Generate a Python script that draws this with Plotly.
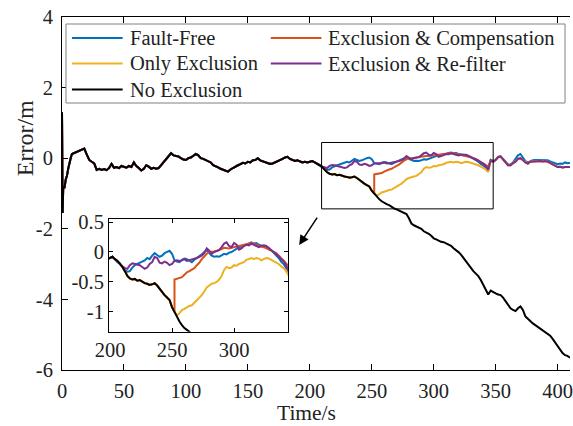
import plotly.graph_objects as go

# ---------------- data ----------------
# common part (all methods identical before the fault), t = 0 .. 204 s
t_start = [0, 0.5, 1, 2, 3, 4, 5, 6, 7]
err_start = [1.3, -1.55, -0.8, -0.85, -0.6, -0.5, -0.3, -0.1, 0.0]
err_common = [0.12, 0.15, 0.18, 0.2, 0.25, 0.27, 0.1, -0.05, -0.1, -0.15,
              -0.33, -0.3, -0.33, -0.31, -0.34, -0.28, -0.16, -0.27, -0.25, -0.28,
              -0.22, -0.25, -0.27, -0.22, -0.25, -0.12, -0.22, -0.28, -0.35, -0.3,
              -0.2, -0.24, -0.3, -0.27, -0.3, -0.28, -0.2, -0.12, -0.05, 0.05,
              0.14, 0.08, 0.06, 0.05, 0.0, -0.04, -0.05, 0.0, 0.02, 0.06,
              0.12, 0.08, 0.0, -0.02, -0.06, -0.1, -0.12, -0.2, -0.22, -0.26,
              -0.3, -0.33, -0.35, -0.38, -0.32, -0.28, -0.22, -0.2, -0.17, -0.13,
              -0.15, -0.1, -0.12, -0.06, -0.05, 0.0, -0.06, -0.08, -0.1, -0.12,
              -0.16, -0.15, -0.12, -0.1, -0.05, -0.02, 0.02, 0.04, -0.02, -0.04,
              -0.08, -0.06, -0.1, -0.12, -0.1, -0.12, -0.1, -0.08, -0.12]

# fault, before exclusion: t = 206 .. 252 s
black_b = [-0.15, -0.2, -0.25, -0.32, -0.4, -0.44, -0.46, -0.45, -0.48, -0.47,
           -0.5, -0.52, -0.53, -0.55, -0.54, -0.52, -0.56, -0.62, -0.67, -0.72,
           -0.76, -0.8, -0.92, -1.0]
blue_b = [-0.17, -0.2, -0.25, -0.3, -0.33, -0.32, -0.26, -0.22, -0.2, -0.18,
          -0.16, -0.14, -0.1, -0.12, -0.06, -0.02, -0.05, -0.08, -0.06, -0.02,
          0.0, 0.02, -0.03, -0.14]
purple_b = [-0.15, -0.19, -0.24, -0.27, -0.28, -0.22, -0.19, -0.2, -0.22, -0.22,
            -0.25, -0.28, -0.26, -0.2, -0.17, -0.08, -0.1, -0.18, -0.19, -0.16,
            -0.18, -0.22, -0.2, -0.15]

# after exclusion: t = 254 .. 344 s
black_c = [-1.1, -1.16, -1.22, -1.27, -1.3, -1.33, -1.38, -1.42, -1.45, -1.48,
           -1.5, -1.55, -1.58, -1.7, -1.85, -1.9, -1.93, -1.96, -2.0, -2.07,
           -2.1, -2.14, -2.2, -2.27, -2.3, -2.34, -2.37, -2.38, -2.42, -2.45,
           -2.48, -2.55, -2.6, -2.66, -2.73, -2.83, -2.92, -3.0, -3.1, -3.2,
           -3.27, -3.34, -3.45, -3.58, -3.72, -3.86]
blue_c = [-0.16, -0.17, -0.13, -0.11, -0.12, -0.15, -0.17, -0.13, -0.1, -0.08,
          -0.04, 0.0, 0.03, -0.02, -0.06, -0.08, -0.07, -0.08, -0.06, -0.03,
          -0.04, -0.01, 0.0, 0.03, 0.06, 0.08, 0.09, 0.11, 0.12, 0.15,
          0.16, 0.14, 0.15, 0.12, 0.11, 0.1, 0.09, 0.07, 0.03, -0.01,
          -0.06, -0.1, -0.16, -0.2, -0.27, -0.3]
purple_c = [-0.14, -0.15, -0.14, -0.12, -0.15, -0.14, -0.13, -0.11, -0.1, -0.08,
            -0.06, -0.02, 0.06, 0.02, -0.03, 0.0, 0.02, 0.03, 0.08, 0.14,
            0.16, 0.1, 0.08, 0.15, 0.12, 0.04, 0.06, 0.1, 0.12, 0.11,
            0.14, 0.12, 0.1, 0.08, 0.1, 0.11, 0.1, 0.06, 0.03, 0.0,
            -0.03, -0.07, -0.12, -0.15, -0.22, -0.33]
orange_jump = -0.46
orange_c = [-0.45, -0.43, -0.42, -0.38, -0.34, -0.32, -0.3, -0.27, -0.22, -0.18,
            -0.12, -0.07, -0.03, 0.0, 0.0, 0.01, 0.02, 0.03, 0.05, 0.07,
            0.06, 0.06, 0.07, 0.08, 0.09, 0.1, 0.12, 0.12, 0.13, 0.14,
            0.15, 0.14, 0.12, 0.1, 0.09, 0.08, 0.06, 0.04, 0.03, 0.01,
            -0.02, -0.06, -0.1, -0.14, -0.19, -0.24]
yellow_c = [-1.06, -1.02, -0.97, -0.95, -0.92, -0.9, -0.89, -0.85, -0.81, -0.77,
            -0.72, -0.66, -0.59, -0.56, -0.53, -0.52, -0.5, -0.46, -0.4, -0.3,
            -0.25, -0.27, -0.26, -0.22, -0.23, -0.2, -0.19, -0.17, -0.13, -0.11,
            -0.1, -0.12, -0.1, -0.11, -0.14, -0.12, -0.1, -0.11, -0.13, -0.16,
            -0.18, -0.2, -0.24, -0.27, -0.32, -0.39]

# after the fault: t = 346 .. 410 s
black_d = [-3.75, -3.8, -3.83, -3.86, -3.88, -3.95, -4.05, -4.15, -4.25, -4.3,
           -4.33, -4.25, -4.2, -4.3, -4.48, -4.55, -4.62, -4.68, -4.73, -4.78,
           -4.82, -4.88, -4.92, -4.97, -5.03, -5.12, -5.22, -5.3, -5.4, -5.52,
           -5.58, -5.6, -5.65]
blue_d = [-0.05, -0.08, -0.04, 0.04, 0.05, -0.04, -0.1, -0.18, -0.18, -0.12,
          -0.02, 0.08, 0.12, 0.02, -0.08, -0.12, -0.08, -0.06, -0.05, -0.05,
          -0.06, -0.07, -0.05, -0.06, -0.09, -0.12, -0.14, -0.17, -0.15, -0.16,
          -0.12, -0.14, -0.13]
others_d = [-0.06, -0.1, -0.05, 0.03, 0.05, -0.05, -0.12, -0.2, -0.2, -0.14,
            -0.1, -0.02, 0.0, -0.05, -0.12, -0.15, -0.1, -0.09, -0.08, -0.07,
            -0.08, -0.09, -0.08, -0.1, -0.14, -0.18, -0.22, -0.25, -0.24, -0.26,
            -0.25, -0.26, -0.25]

names = ["Fault-Free", "Exclusion & Compensation", "Only Exclusion",
         "Exclusion & Re-filter", "No Exclusion"]
colors = ["#0072BD", "#D95319", "#EDB120", "#7E2F8E", "#000000"]

y_ticks = [-6, -4, -2, 0, 2, 4]
x_ticks = [0, 50, 100, 150, 200, 250, 300, 350, 400]
in_x_ticks = [200, 250, 300]
in_y_ticks = [-1, -0.5, 0, 0.5]

# ---------------- assemble series ----------------
def times(start, vals):
    return [start + 2 * i for i in range(len(vals))]

tA = t_start + times(8, err_common)
yA = err_start + err_common
tB = times(206, black_b)
tC = times(254, black_c)
tD = times(346, black_d)

series = {
    "Fault-Free": (tA + tB + tC + tD, yA + blue_b + blue_c + blue_d),
    "Exclusion & Compensation": (tA + tB + [tB[-1]] + tC + tD,
                                 yA + black_b + [orange_jump] + orange_c + others_d),
    "Only Exclusion": (tA + tB + tC + tD, yA + black_b + yellow_c + others_d),
    "Exclusion & Re-filter": (tA + tB + tC + tD, yA + purple_b + purple_c + others_d),
    "No Exclusion": (tA + tB + tC + tD, yA + black_b + black_c + black_d),
}

FONT = "Liberation Serif"
FS = 20.5
TXT = "#222222"

fig = go.Figure()
for nm, col in zip(names, colors):
    x, y = series[nm]
    fig.add_trace(go.Scatter(x=x, y=y, mode="lines", name=nm, showlegend=False,
                             line=dict(color=col, width=2)))
for nm, col in zip(names, colors):
    x, y = series[nm]
    fig.add_trace(go.Scatter(x=x, y=y, mode="lines", name=nm, showlegend=False,
                             xaxis="x2", yaxis="y2",
                             line=dict(color=col, width=2)))

W, H = 573, 426
ml, mr, mt, mb = 62, 0, 17, 56
pw, ph = W - ml - mr, H - mt - mb

def px_x(px):
    return (px - ml) / pw

def px_y(py):
    return (H - mb - py) / ph

axis_common = dict(showline=True, linecolor="black", linewidth=1, ticks="inside",
                   tickcolor="black", showgrid=False, zeroline=False,
                   ticklabeloverflow="allow",
                   tickfont=dict(family=FONT, size=FS, color=TXT))

fig.update_layout(
    width=W, height=H, autosize=False,
    margin=dict(l=ml, r=mr, t=mt, b=mb),
    paper_bgcolor="white", plot_bgcolor="white",
    font=dict(family=FONT, size=FS, color=TXT),
    showlegend=False,
    xaxis=dict(range=[0, 410], tickvals=x_ticks, ticklen=6, mirror="ticks",
               ticklabelstandoff=2, **axis_common),
    yaxis=dict(range=[-6, 4], tickvals=y_ticks, ticktext=[str(v) for v in y_ticks],
               ticklen=6, mirror=False, ticklabelstandoff=4, **axis_common),
    xaxis2=dict(domain=[px_x(109.3), px_x(289.3)], anchor="y2", range=[199.2, 343.5],
                tickvals=in_x_ticks, ticklen=4, mirror="ticks", **axis_common),
    yaxis2=dict(domain=[px_y(331.7), px_y(219)], anchor="x2", range=[-1.33, 0.55],
                tickvals=in_y_ticks, ticktext=[str(v) for v in in_y_ticks],
                ticklen=4, mirror="ticks", **axis_common),
)

# zoom rectangle
fig.add_shape(type="rect", xref="x", yref="y", x0=209.5, x1=348, y0=-1.435, y1=0.445,
              line=dict(color="black", width=1))

# arrow
fig.add_annotation(x=191.4, y=-2.46, ax=206.7, ay=-1.64, xref="x", yref="y",
                   axref="x", ayref="y", text="", showarrow=True,
                   arrowhead=2, arrowsize=1.3, arrowwidth=1.5, arrowcolor="black")

# legend box (drawn as shapes + text so it keeps the two-column layout)
fig.add_shape(type="rect", xref="paper", yref="paper",
              x0=px_x(66), x1=px_x(568), y0=px_y(103), y1=px_y(24),
              line=dict(color="#808080", width=1), fillcolor="white", layer="above")
leg_pos = {
    "Fault-Free": (72, 38),
    "Exclusion & Compensation": (272, 38),
    "Only Exclusion": (72, 63.5),
    "Exclusion & Re-filter": (272, 63.5),
    "No Exclusion": (72, 89.5),
}
for nm, col in zip(names, colors):
    lx, ly = leg_pos[nm]
    fig.add_shape(type="line", xref="paper", yref="paper",
                  x0=px_x(lx), x1=px_x(lx + 51), y0=px_y(ly), y1=px_y(ly),
                  line=dict(color=col, width=2), layer="above")
    fig.add_annotation(x=px_x(lx + 56), y=px_y(ly), xref="paper", yref="paper",
                       text=nm.replace("&", "&amp;"), showarrow=False,
                       xanchor="left", yanchor="middle",
                       font=dict(family=FONT, size=FS, color=TXT))

# axis titles
fig.add_annotation(x=px_x(308), y=px_y(412.5), xref="paper", yref="paper",
                   text="Time/s", showarrow=False, xanchor="center", yanchor="middle",
                   borderpad=0,
                   font=dict(family=FONT, size=21.5, color=TXT))
fig.add_annotation(x=px_x(25), y=px_y(138), xref="paper", yref="paper",
                   text="Error/m", textangle=-90, showarrow=False,
                   xanchor="center", yanchor="middle",
                   font=dict(family=FONT, size=24, color=TXT))

fig.write_html("out.html")
